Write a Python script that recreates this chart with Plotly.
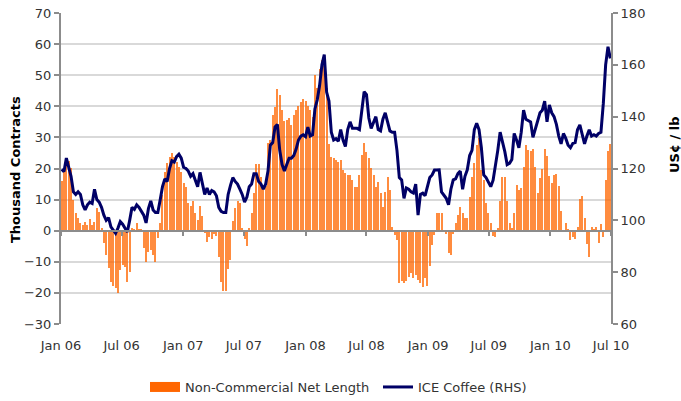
import pandas as pd
import plotly.graph_objects as go

# Weekly observations, first week of Jan 2006 to end of June 2010
week_start = "2006-01-03"
n_weeks = 235
dates = pd.date_range(week_start, periods=n_weeks, freq="7D")

# Non-commercial net length, thousand contracts
net_length = [
    15.9, 19.5, 22.4, 22.4, 20.1, 10.0, 5.8, 4.0, 2.4, 1.8,
    2.7, 1.8, 3.7, 1.8, 2.9, 7.2, 6.0, 0.9, -3.8, -7.8,
    -11.9, -16.4, -17.8, -18.5, -20.1, -12.6, -11.0, -11.6, -16.4, -13.2,
    1.0, 0.5, 2.6, 0.3, 0.5, -5.7, -10.0, -6.7, -6.2, -7.8,
    -10.0, -2.5, 2.4, 11.5, 19.0, 21.7, 23.8, 24.9, 23.8, 22.2,
    20.6, 19.0, 15.2, 14.0, 8.8, 8.0, 9.6, 5.6, 3.4, 8.0,
    4.7, -0.6, -3.7, -1.9, -2.7, -1.1, -1.7, -8.6, -16.4, -19.3,
    -19.3, -12.4, -9.4, 3.1, 7.2, 9.4, 9.0, 1.0, -2.8, -4.9,
    0.8, 5.7, 12.0, 21.3, 21.6, 17.4, 14.7, 14.4, 28.1, 29.2,
    37.3, 39.9, 45.5, 43.7, 38.9, 35.4, 35.6, 36.1, 34.0, 37.2,
    38.9, 40.2, 41.3, 42.2, 41.6, 40.2, 38.9, 36.7, 50.0, 46.0,
    52.0, 55.0, 53.0, 46.0, 28.0, 23.8, 23.3, 22.7, 22.2, 22.7,
    19.5, 18.5, 17.9, 17.9, 16.3, 14.1, 14.1, 17.9, 24.3, 28.1,
    25.4, 23.3, 20.1, 17.9, 14.2, 15.8, 12.0, 7.7, 12.5, 17.4,
    13.1, 1.3, -1.4, -3.0, -16.9, -16.3, -16.9, -16.3, -14.8, -13.7,
    -15.2, -14.4, -15.9, -16.9, -18.0, -15.2, -17.8, -11.4, -4.6, -1.4,
    5.6, 5.7, 5.7, 0.1, -1.1, -7.3, -7.8, -1.0, 2.4, 5.1,
    7.7, 5.8, 4.0, 4.0, 10.9, 17.4, 21.7, 27.6, 29.7, 19.5,
    16.3, 8.8, 5.6, 2.6, -1.7, -1.9, 0.8, 9.4, 17.4, 17.3,
    9.4, 2.4, 1.0, 5.7, 14.7, 13.1, 13.6, 20.4, 27.6, 26.0,
    25.5, 26.3, 20.6, 12.0, 16.9, 20.0, 26.3, 24.1, 17.6, 15.2,
    17.9, 18.2, 14.4, 6.2, 0.2, 2.6, 0.5, -3.0, -2.1, -2.8,
    1.3, 10.1, 11.2, 4.2, -4.3, -8.6, 1.3, 0.5, 1.3, -3.9,
    2.2, -1.9, 16.3, 25.6, 27.8,
]

# ICE Coffee front month, US cents per lb
coffee_price = [
    119.7, 118.8, 124.0, 121.0, 117.0, 111.0, 110.0, 111.0, 110.0, 106.0,
    104.0, 106.0, 107.0, 106.5, 112.0, 108.0, 107.0, 105.0, 102.0, 100.0,
    101.0, 97.5, 96.0, 95.0, 97.0, 99.5, 98.5, 97.0, 95.5, 100.0,
    105.0, 104.2, 106.0, 105.0, 103.5, 102.0, 99.0, 104.5, 107.5, 104.0,
    103.0, 103.0, 107.8, 113.0, 116.0, 115.0, 120.0, 123.0, 122.5, 124.6,
    125.5, 124.0, 120.5, 120.0, 119.0, 117.0, 118.0, 115.0, 113.0, 118.5,
    113.5, 110.0, 112.5, 110.0, 111.5, 111.0, 109.5, 105.0, 103.5, 103.0,
    103.0, 110.0, 113.5, 116.5, 115.0, 114.0, 112.0, 110.0, 107.0, 109.0,
    113.0, 114.0, 118.0, 118.0, 115.0, 114.0, 112.0, 114.0, 119.0, 129.0,
    130.0, 136.0, 137.0, 127.0, 121.5, 119.0, 121.5, 124.0, 124.0, 125.0,
    127.5, 131.0, 132.5, 133.0, 132.3, 136.0, 132.5, 133.0, 143.0, 146.5,
    152.0, 160.0, 164.0, 149.5, 146.0, 134.0, 131.0, 131.5, 130.5, 135.0,
    131.0, 128.5, 135.0, 138.0, 135.5, 135.5, 135.5, 135.0, 143.5, 149.6,
    148.5, 139.5, 135.5, 137.5, 140.0, 135.0, 134.5, 139.0, 141.5, 138.0,
    134.5, 134.0, 134.0, 127.0, 116.5, 115.6, 108.5, 112.5, 112.0, 111.0,
    110.5, 114.0, 102.0, 110.0, 110.5, 109.5, 113.0, 116.5, 117.5, 119.4,
    119.4, 119.5, 111.0, 109.8, 108.5, 106.0, 112.0, 115.6, 116.0, 118.0,
    119.0, 112.0, 117.0, 119.5, 125.0, 127.0, 135.0, 137.5, 135.0, 128.0,
    117.5, 116.5, 114.5, 113.0, 115.5, 121.0, 127.0, 134.0, 130.3, 126.5,
    121.5, 122.0, 123.5, 133.5, 131.0, 128.0, 134.0, 142.5, 139.0, 138.5,
    138.0, 132.0, 135.5, 139.0, 141.5, 142.5, 146.0, 138.0, 144.5, 141.5,
    140.0, 137.0, 132.5, 129.5, 133.5, 131.6, 129.0, 128.0, 129.7, 130.0,
    135.0, 136.8, 132.5, 129.5, 132.5, 134.9, 132.5, 133.0, 132.5, 133.5,
    134.0, 145.0, 160.0, 167.0, 162.5,
]

# Half-yearly axis ticks
tick_dates = ["2006-01-01", "2006-07-01", "2007-01-01", "2007-07-01", "2008-01-01",
              "2008-07-01", "2009-01-01", "2009-07-01", "2010-01-01", "2010-07-01"]
tick_labels = ["Jan 06", "Jul 06", "Jan 07", "Jul 07", "Jan 08",
               "Jul 08", "Jan 09", "Jul 09", "Jan 10", "Jul 10"]

left_range = [-30, 70]
right_range = [60, 180]

ORANGE = "#FF6600"
NAVY = "#000066"
AXIS_GREY = "#8c8c8c"
GRID_GREY = "#d9d9d9"
TEXT = "#333333"
FONT = "DejaVu Sans"

fig = go.Figure()

fig.add_trace(go.Bar(
    x=dates, y=net_length, xaxis="x", yaxis="y",
    marker=dict(color=ORANGE, line=dict(width=0)), opacity=0.75,
    width=3 * 86400000, showlegend=False,
))
fig.add_trace(go.Scatter(
    x=dates, y=coffee_price, xaxis="x", yaxis="y2", mode="lines",
    line=dict(color=NAVY, width=3), showlegend=False,
))
# Empty trace so the zero-crossing date axis gets drawn
fig.add_trace(go.Scatter(x=[], y=[], xaxis="x2", yaxis="y",
                         showlegend=False, hoverinfo="skip"))

# Legend entries
fig.add_trace(go.Scatter(x=[None], y=[None], mode="lines",
                         line=dict(color=ORANGE, width=10),
                         name="Non-Commercial Net Length"))
fig.add_trace(go.Scatter(x=[None], y=[None], mode="lines",
                         line=dict(color=NAVY, width=3),
                         name="ICE Coffee (RHS)"))

zero_pos = (0 - left_range[0]) / (left_range[1] - left_range[0])

fig.update_layout(
    width=681, height=401,
    margin=dict(l=61, r=70, t=13, b=77, autoexpand=False),
    paper_bgcolor="white", plot_bgcolor="white",
    font=dict(family=FONT, size=13, color=TEXT),
    bargap=0,
    xaxis=dict(
        type="date", range=[tick_dates[0], tick_dates[-1]],
        tickvals=tick_dates, ticktext=tick_labels, automargin=False,
        showgrid=False, showline=False, zeroline=False,
        ticks="outside", ticklen=9, tickcolor="rgba(0,0,0,0)",
        tickfont=dict(size=13, color=TEXT),
    ),
    xaxis2=dict(
        type="date", overlaying="x", matches="x", anchor="free", position=zero_pos,
        tickvals=tick_dates, showticklabels=False, automargin=False,
        showgrid=False, zeroline=False,
        showline=True, linecolor=AXIS_GREY, linewidth=2,
        ticks="outside", ticklen=4, tickwidth=2, tickcolor=AXIS_GREY,
    ),
    yaxis=dict(
        range=left_range, dtick=10, showgrid=True, gridcolor=GRID_GREY, gridwidth=1.5,
        zeroline=False, showline=True, linecolor=AXIS_GREY, linewidth=2,
        ticks="outside", ticklen=5, tickwidth=2, tickcolor=AXIS_GREY,
        tickfont=dict(size=13, color=TEXT), automargin=False,
    ),
    yaxis2=dict(
        range=right_range, dtick=20, overlaying="y", side="right", anchor="x",
        showgrid=False, zeroline=False, showline=True, linecolor=AXIS_GREY, linewidth=2,
        ticks="outside", ticklen=5, tickwidth=2, tickcolor=AXIS_GREY,
        tickfont=dict(size=13, color=TEXT), automargin=False,
    ),
    legend=dict(
        orientation="h", x=(145 - 61) / 550, xanchor="left", y=-0.2026, yanchor="middle",
        font=dict(size=13, color=TEXT), bgcolor="rgba(0,0,0,0)",
        itemwidth=30, entrywidth=188, entrywidthmode="pixels",
    ),
    annotations=[
        dict(text="<b>Thousand Contracts</b>", xref="paper", yref="paper",
             x=(15 - 61) / 550, y=0.495, xanchor="center", yanchor="middle",
             textangle=-90, showarrow=False,
             font=dict(size=13, color="#000000")),
        dict(text="<b>US¢ / lb</b>", xref="paper", yref="paper",
             x=(675 - 61) / 550, y=0.5756, xanchor="center", yanchor="middle",
             textangle=-90, showarrow=False,
             font=dict(size=13, color="#000000")),
    ],
)

fig.write_html("out.html")
